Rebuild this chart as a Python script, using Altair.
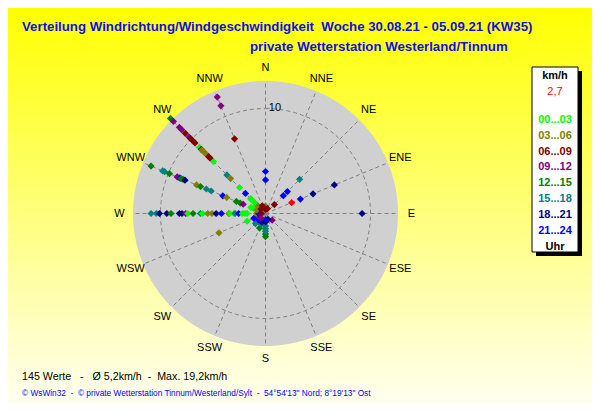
import math
import altair as alt
import pandas as pd
import numpy as np

# ---------------- data ----------------
compass = ["N", "NNE", "NE", "ENE", "E", "ESE", "SE", "SSE",
           "S", "SSW", "SW", "WSW", "W", "WNW", "NW", "NNW"]

hour_bins = ["00...03", "03...06", "06...09", "09...12",
             "12...15", "15...18", "18...21", "21...24"]
bin_colors = ["#00FF00", "#808000", "#800000", "#800080",
              "#008000", "#008080", "#000080", "#0000FF"]

# wind speed (km/h) and hour-bin index per direction
obs_speed = {
    "NW":  [12.8, 12.4, 11.6, 11.3, 10.8, 10.3, 10.1, 9.8, 9.5, 8.9, 8.65, 8.55, 8.3, 8.0,
            7.65, 7.4, 7.0, 5.2, 4.7, 3.5, 2.7, 2.0, 1.8, 1.5, 1.2, 1.0, 0.6],
    "NNW": [12.0, 11.1, 7.7, 0.8],
    "N":   [4.0, 3.2, 0.7, 0.4],
    "NNE": [0.5],
    "NE":  [4.6, 2.95, 2.4, 1.2],
    "ENE": [7.1, 4.9, 3.6],
    "E":   [9.2],
    "WNW": [11.8, 10.6, 10.4, 9.9, 9.1, 8.9, 8.8, 8.7, 8.5, 8.3, 7.1, 6.7, 6.1, 5.6, 4.4,
            4.0, 3.0, 2.6, 2.3, 1.5, 1.25, 0.9],
    "W":   [10.9, 10.4, 10.1, 9.4, 9.0, 8.2, 7.95, 7.6, 7.4, 6.9, 6.2, 6.0, 5.5, 5.1, 4.7,
            4.2, 3.5, 3.4, 3.0, 2.9, 2.55, 2.2, 1.95, 1.75, 0.85, 0.65, 0.4],
    "WSW": [4.8, 1.9, 1.2, 0.7],
    "SW":  [1.35, 0.9, 0.6],
    "SSW": [1.5, 1.1, 0.9],
    "S":   [2.2, 1.95, 1.7, 1.45, 1.2, 0.8, 0.6],
    "SSE": [0.6],
    "SE":  [0.9],
}
obs_bin = {
    "NW":  [4, 3, 3, 3, 2, 3, 2, 2, 2, 0, 2, 1, 1, 1, 2, 2, 0, 5, 1, 0, 7, 0, 0, 0, 0, 1, 2],
    "NNW": [3, 3, 2, 2],
    "N":   [7, 7, 1, 2],
    "NNE": [2],
    "NE":  [5, 7, 7, 2],
    "ENE": [6, 6, 7],
    "E":   [6],
    "WNW": [4, 5, 5, 4, 3, 3, 7, 4, 4, 6, 1, 4, 5, 5, 7, 1, 4, 4, 3, 0, 0, 1],
    "W":   [5, 5, 6, 6, 4, 6, 6, 3, 0, 4, 5, 0, 1, 1, 6, 7, 1, 0, 0, 5, 7, 0, 0, 0, 1, 7, 2],
    "WSW": [1, 0, 7, 3],
    "SW":  [5, 7, 3],
    "SSW": [4, 5, 6],
    "S":   [4, 4, 5, 5, 5, 6, 7],
    "SSE": [6],
    "SE":  [3],
}
current_dir = "ENE"
current_speed = 2.7

ring_value = 10
outer_value = 12.62
label_value = 13.9

NB = "\u00a0"
title1 = f"Verteilung Windrichtung/Windgeschwindigkeit {NB}Woche 30.08.21 - 05.09.21 (KW35)"
title2 = "private Wetterstation Westerland/Tinnum"
footer1 = f"145 Werte {NB}{NB}-{NB}{NB}{NB}Ø 5,2km/h {NB}-{NB}{NB}Max. 19,2km/h"
footer2 = (f"© WsWin32 {NB}-{NB}{NB}© private Wetterstation Tinnum/Westerland/Sylt "
           f"{NB}-{NB}{NB}54°54'13\" Nord; 8°19'13\" Ost")

# ---------------- tables ----------------
rows = []
for d in compass:
    if d in obs_speed:
        for s, b in zip(obs_speed[d], obs_bin[d]):
            rows.append({"ang": compass.index(d) * 22.5, "speed": s, "bin": hour_bins[b]})
obs = pd.DataFrame(rows)
cur = pd.DataFrame([{"ang": compass.index(current_dir) * 22.5, "speed": current_speed}])
dirs = pd.DataFrame({"lab": compass, "ang": [i * 22.5 for i in range(16)]})

# ---------------- layout ----------------
W, H = 584, 395
PX = 10.5            # pixels per km/h
CX, CY = 257.5, 205.5  # centre within plot area
xs = alt.Scale(domain=[-CX / PX, (W - CX) / PX], range=[0, W], nice=False, zero=False)
ys = alt.Scale(domain=[-(H - CY) / PX, CY / PX], range=[H, 0], nice=False, zero=False)

def X(f):
    return alt.X(f, type="quantitative", scale=xs, axis=None)

def Y(f):
    return alt.Y(f, type="quantitative", scale=ys, axis=None)

one = pd.DataFrame({"k": [0]})

bg = alt.Chart(one).mark_rect(
    fill={"gradient": "linear", "x1": 0, "y1": 0, "x2": 0, "y2": 1,
          "stops": [{"offset": 0, "color": "#FFFF00"}, {"offset": 1, "color": "#FFFFF0"}]}
).encode(x=alt.value(0), x2=alt.value(W), y=alt.value(0), y2=alt.value(H))

u = np.linspace(-outer_value, outer_value, 1201)
disc_df = pd.DataFrame({"u": u})
disc = alt.Chart(disc_df).transform_calculate(
    lo=f"-sqrt(max(0, {outer_value}*{outer_value} - datum.u*datum.u))",
    hi=f"sqrt(max(0, {outer_value}*{outer_value} - datum.u*datum.u))",
).mark_area(color="#D0D0D0", opacity=1).encode(x=X("u"), y=Y("lo"), y2="hi:Q")

ring_df = pd.DataFrame({"t": np.arange(0, 361, 2)})
ring = alt.Chart(ring_df).transform_calculate(
    rx=f"{ring_value}*sin(datum.t*PI/180)", ry=f"{ring_value}*cos(datum.t*PI/180)"
).mark_line(color="#808080", strokeWidth=1, strokeDash=[4, 3]).encode(
    x=X("rx"), y=Y("ry"), order="t:Q")

spokes = alt.Chart(dirs).transform_calculate(
    x0="0", y0="0",
    ex=f"{outer_value}*sin(datum.ang*PI/180)", ey=f"{outer_value}*cos(datum.ang*PI/180)"
).mark_rule(color="#808080", strokeWidth=1, strokeDash=[4, 3]).encode(
    x=X("x0"), y=Y("y0"), x2="ex:Q", y2="ey:Q")

labels = alt.Chart(dirs).transform_calculate(
    lx=f"{label_value}*sin(datum.ang*PI/180)", ly=f"{label_value}*cos(datum.ang*PI/180)"
).mark_text(font="Liberation Sans", fontSize=11, color="#000000",
            align="center", baseline="middle").encode(x=X("lx"), y=Y("ly"), text="lab:N")

ring_lab = alt.Chart(pd.DataFrame({"v": [ring_value], "t": [str(ring_value)]})).transform_calculate(
    zx="0.9", zy="datum.v + 0.05"
).mark_text(font="Liberation Sans", fontSize=11, color="#000000",
            align="center", baseline="middle").encode(x=X("zx"), y=Y("zy"), text="t:N")

pts = alt.Chart(obs).transform_calculate(
    px="datum.speed*sin(datum.ang*PI/180)", py="datum.speed*cos(datum.ang*PI/180)"
).mark_point(shape="diamond", filled=True, size=52, opacity=1).encode(
    x=X("px"), y=Y("py"),
    color=alt.Color("bin:N", scale=alt.Scale(domain=hour_bins, range=bin_colors), legend=None))

cur_pt = alt.Chart(cur).transform_calculate(
    px="datum.speed*sin(datum.ang*PI/180)", py="datum.speed*cos(datum.ang*PI/180)"
).mark_point(shape="diamond", filled=True, size=52, opacity=1, color="#FF0000").encode(
    x=X("px"), y=Y("py"))

def txt(s, x, y, size, color, bold=False, align="left", font="Liberation Sans"):
    return alt.Chart(pd.DataFrame({"s": [s]})).mark_text(
        font=font, fontSize=size, color=color, fontWeight="bold" if bold else "normal",
        align=align, baseline="middle").encode(x=alt.value(x), y=alt.value(y), text="s:N")

texts = [
    txt(title1, 14, 19, 13.25, "#1010E8", bold=True),
    txt(title2, 242, 39, 13.25, "#1010E8", bold=True),
    txt(footer1, 14, 369, 10.7, "#000000"),
    txt(footer2, 14, 386, 8.3, "#0000FF"),
]

shadow = alt.Chart(one).mark_rect(fill="#000000").encode(
    x=alt.value(528), x2=alt.value(574), y=alt.value(63), y2=alt.value(248))
box = alt.Chart(one).mark_rect(fill="#FFFFFF", stroke="#000000", strokeWidth=1).encode(
    x=alt.value(524), x2=alt.value(570), y=alt.value(59), y2=alt.value(244))

leg = [txt("km/h", 547, 68, 11, "#000000", bold=True, align="center"),
       txt(str(current_speed).replace(".", ","), 547, 84, 11, "#FF0000", align="center")]
for i, (lab, col) in enumerate(zip(hour_bins, bin_colors)):
    leg.append(txt(lab, 547, 112 + i * 15.8, 11, col, bold=True, align="center"))
leg.append(txt("Uhr", 547, 238.5, 11, "#000000", bold=True, align="center"))

chart = alt.layer(
    bg, disc, ring, spokes, labels, ring_lab, pts, cur_pt, *texts, shadow, box, *leg
).properties(width=W, height=H, padding=0, background="#FFFF80").configure_view(strokeWidth=0)

chart.save("out.html", embed_options={"renderer": "svg", "actions": False})
